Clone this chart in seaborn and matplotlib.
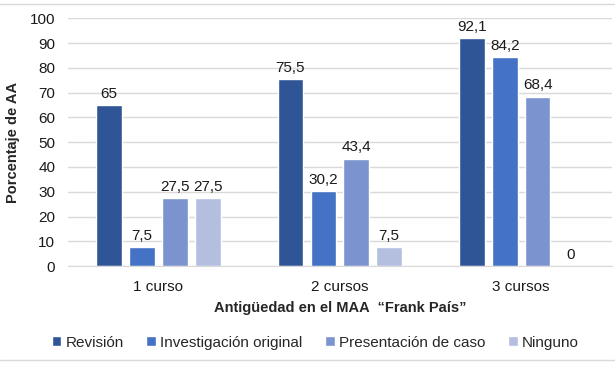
import pandas as pd
import numpy as np
import matplotlib.pyplot as plt
import seaborn as sns
from matplotlib.lines import Line2D

# datos del grafico
cursos = ['1 curso', '2 cursos', '3 cursos']
tipos = ['Revisión', 'Investigación original', 'Presentación de caso', 'Ninguno']
revision = [65, 75.5, 92.1]
investigacion = [7.5, 30.2, 84.2]
presentacion = [27.5, 43.4, 68.4]
ninguno = [27.5, 7.5, 0]
colores = ['#2F5597', '#4472C4', '#7B93CF', '#B4BEDF']

df = pd.DataFrame({
    'curso': cursos * 4,
    'tipo': np.repeat(tipos, 3),
    'valor': revision + investigacion + presentacion + ninguno,
})

sns.set_style('white')
plt.rcParams['font.family'] = ['Liberation Sans', 'DejaVu Sans']

fig, ax = plt.subplots(figsize=(6.15, 3.67), dpi=100)
fig.subplots_adjust(left=0.11, right=0.995, top=0.95, bottom=0.275)

sns.barplot(data=df, x='curso', y='valor', hue='tipo', hue_order=tipos,
            palette=colores, saturation=1, width=0.725, gap=0.22, ax=ax, legend=True)

for cont in ax.containers:
    ax.bar_label(cont, labels=[f'{b.get_height():g}'.replace('.', ',') for b in cont],
                 padding=3, fontsize=11, color='#1a1a1a')

ax.set_ylim(0, 100)
ax.set_yticks(range(0, 101, 10))
ax.yaxis.grid(True, color='#d9d9d9', linewidth=1)
ax.set_axisbelow(True)
sns.despine(ax=ax, left=True, bottom=False, top=True, right=True)
ax.spines['bottom'].set_color('#d9d9d9')
ax.tick_params(axis='both', length=0, labelsize=11, colors='#1a1a1a')
ax.tick_params(axis='x', pad=10)
ax.tick_params(axis='y', pad=9)
ax.set_ylabel('Porcentaje de AA', fontsize=10.5, fontweight='bold', labelpad=7)
ax.set_xlabel('Antigüedad en el MAA  “Frank País”', fontsize=10.5, fontweight='bold', labelpad=5)

ax.legend(loc='upper center', bbox_to_anchor=(0.455, -0.225), ncol=4, frameon=False,
          fontsize=11, handlelength=0.6, handleheight=0.6, handletextpad=0.3,
          columnspacing=1.5)

# marco exterior
fig.add_artist(Line2D([0, 1], [0.988, 0.988], color='#d9d9d9', lw=1))
fig.add_artist(Line2D([0, 1], [0.019, 0.019], color='#d9d9d9', lw=1))

plt.savefig('out.png', dpi=100)
